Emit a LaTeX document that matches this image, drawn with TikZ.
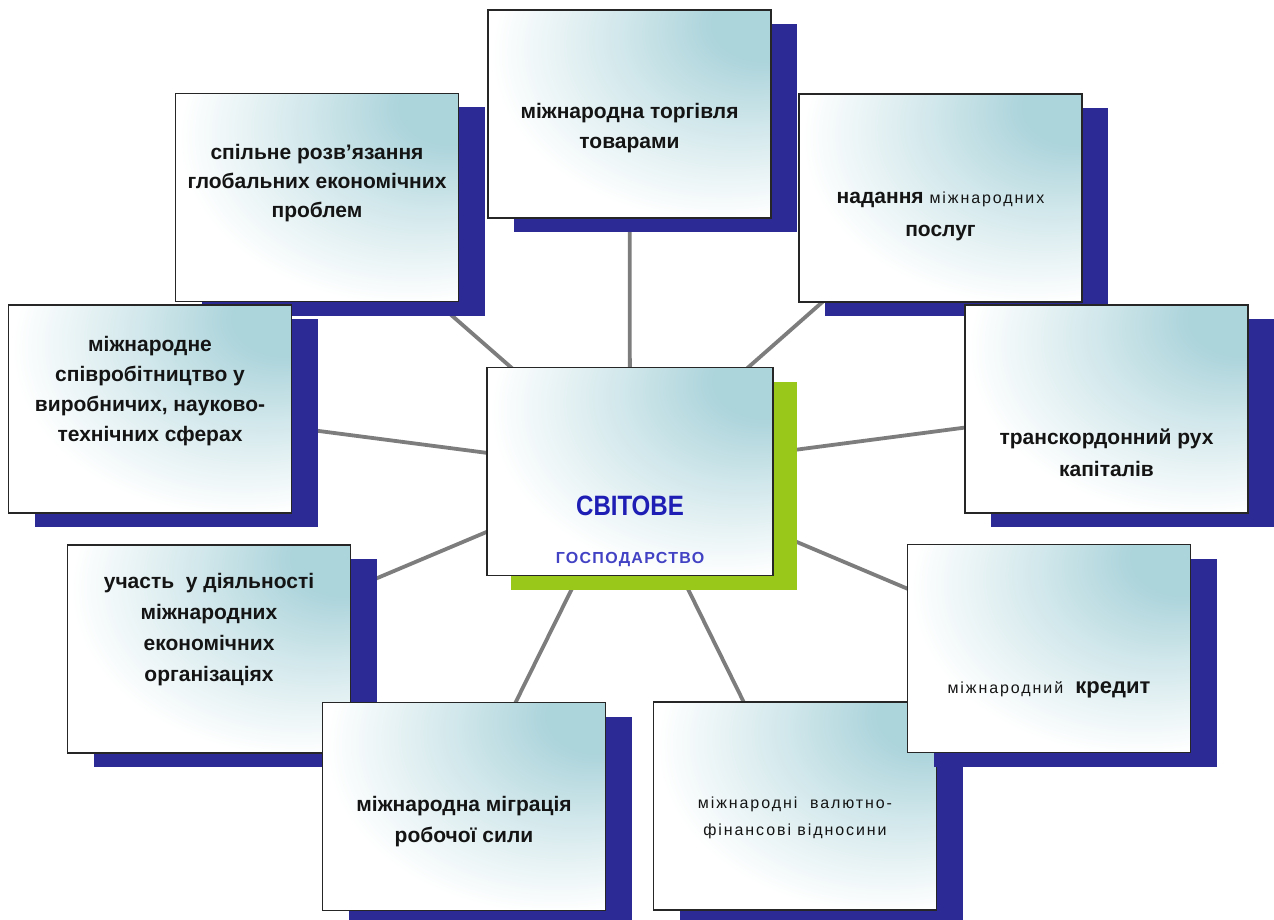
\documentclass[tikz,border=0pt]{standalone}
\usepackage{graphicx}
\usepackage{fontspec}
\setmainfont{Liberation Sans}
\newfontfamily\widefont[LetterSpace=12]{Liberation Sans}
\newfontfamily\capsfont[LetterSpace=8]{Liberation Sans}
\usetikzlibrary{shadows}
\pgfdeclarelayer{background}
\pgfsetlayers{background,main}
\definecolor{shblue}{RGB}{44,42,148}
\definecolor{boxteal}{RGB}{172,212,219}
\definecolor{limeg}{RGB}{153,199,26}
\definecolor{linegray}{RGB}{125,125,125}
\definecolor{titleblue}{RGB}{30,30,180}
\definecolor{subblue}{RGB}{66,66,196}
\pgfdeclareradialshading{boxglow}{\pgfpoint{26bp}{24bp}}{%
  color(0bp)=(boxteal); color(9bp)=(boxteal); color(22bp)=(boxteal!55!white);
  color(40bp)=(white); color(100bp)=(white)}
\tikzset{
  cardbase/.style={draw=black!85, line width=1.4pt, minimum width=283pt,
    minimum height=208pt, inner sep=0pt, shade, shading=boxglow},
  card/.style={cardbase,
    drop shadow={shadow xshift=26pt, shadow yshift=-14pt, fill=shblue, opacity=1}},
  hub/.style={cardbase, minimum width=286pt,
    drop shadow={shadow xshift=24pt, shadow yshift=-14pt, fill=limeg, opacity=1}},
  lbl/.style={align=center, inner sep=0pt, text=black!92,
    font=\fontsize{21}{29}\selectfont\bfseries},
  thin/.style={align=center, inner sep=0pt, text=black!92,
    font=\widefont\fontsize{16}{27}\selectfont},
  spoke/.style={draw=linegray, line width=3.8pt},
}
\begin{document}
\begin{tikzpicture}[x=1pt,y=-1pt]
\useasboundingbox (0,0) rectangle (1274,920);

\node[card] (tl) at (317,197.5) {};
\node[card] (tp) at (629.5,114) {};
\node[card] (tr) at (940.5,198) {};
\node[card] (lf) at (150,409) {};
\node[card] (rt) at (1106.5,409) {};
\node[hub]  (c)  at (630,471.5) {};
\node[card] (ll) at (209,649) {};
\node[card] (bl) at (464,806.5) {};
\node[card] (br) at (795,806) {};
\node[card] (lr) at (1049,648.5) {};

\begin{pgfonlayer}{background}
  \fill[white] (0,0) rectangle (1274,920);
  \foreach \b in {tl,tp,tr,lf,rt,ll,bl,br,lr}
    \draw[spoke] (c.center) -- (\b.center);
\end{pgfonlayer}

\node[lbl] (ttl) at ([yshift=14.5pt]tl.center)
  {спільне розв’язання\\глобальних економічних\\проблем};
\node[lbl, font=\fontsize{21}{30}\selectfont\bfseries] (ttp) at ([yshift=-14pt]tp.center)
  {міжнародна торгівля\\товарами};
\node[lbl, font=\fontsize{21}{33}\selectfont\bfseries] (ttr) at ([yshift=-18pt]tr.center)
  {надання {\widefont\mdseries\fontsize{16}{33}\selectfont міжнародних}\\послуг};
\node[lbl, font=\fontsize{21}{30}\selectfont\bfseries] (tlf) at ([yshift=18pt]lf.center)
  {міжнародне\\співробітництво у\\виробничих, науково-\\технічних сферах};
\node[lbl, font=\fontsize{21}{32}\selectfont\bfseries] (trt) at ([yshift=-44pt]rt.center)
  {транскордонний рух\\капіталів};
\node[lbl, font=\fontsize{21}{31}\selectfont\bfseries] (tll) at ([yshift=19pt]ll.center)
  {участь\ \ у діяльності\\міжнародних\\економічних\\організаціях};
\node[lbl, font=\fontsize{22}{30}\selectfont\bfseries] (tlr) at ([yshift=-41.5pt]lr.center)
  {{\widefont\mdseries\fontsize{16}{30}\selectfont міжнародний}\ \ кредит};
\node[lbl, font=\fontsize{21}{31}\selectfont\bfseries] (tbl) at ([yshift=-15.5pt]bl.center)
  {міжнародна міграція\\робочої сили};
\node[thin] (tbr) at ([yshift=-12pt]br.center)
  {міжнародні\ \ валютно-\\фінансові відносини};

\node[inner sep=0pt, text=titleblue, font=\fontsize{28}{30}\selectfont\bfseries]
  (tc1) at ([yshift=-34.5pt]c.center) {\scalebox{0.86}[1]{СВІТОВЕ}};
\node[inner sep=0pt, text=subblue, font=\capsfont\bfseries\fontsize{16}{18}\selectfont]
  (tc2) at ([yshift=-88.5pt]c.center) {ГОСПОДАРСТВО};
\end{tikzpicture}
\end{document}
